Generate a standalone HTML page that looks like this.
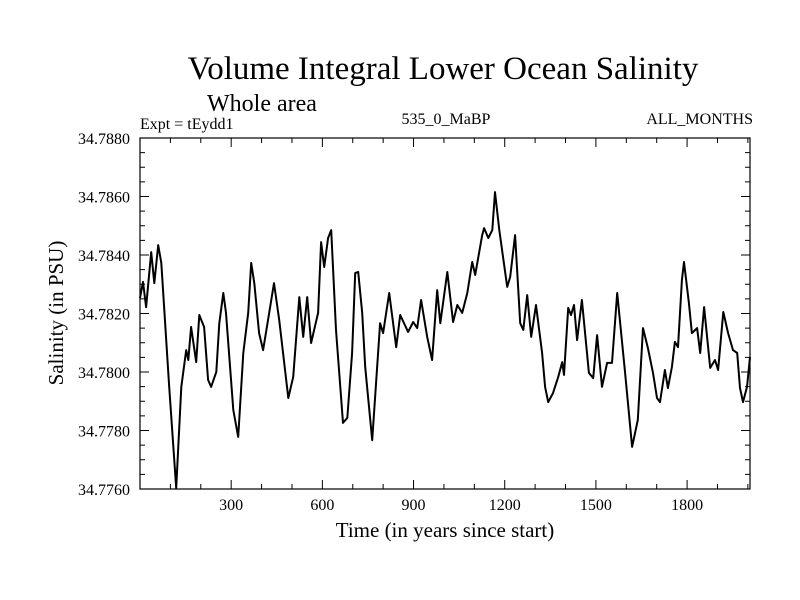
<!DOCTYPE html>
<html><head><meta charset="utf-8"><style>
html,body{margin:0;padding:0;background:#fff;}
svg{display:block;font-family:"Liberation Serif",serif;}
</style></head><body>
<svg id="chart" width="800" height="600">
<rect x="0" y="0" width="800" height="600" fill="#fff"/>
<text x="443" y="79" font-size="33" text-anchor="middle">Volume Integral Lower Ocean Salinity</text>
<text x="262" y="111" font-size="24" text-anchor="middle">Whole area</text>
<text x="140" y="129" font-size="16">Expt = tEydd1</text>
<text x="446" y="124" font-size="16" text-anchor="middle">535_0_MaBP</text>
<text x="753" y="124" font-size="16" text-anchor="end">ALL_MONTHS</text>
<text x="445" y="537" font-size="21" text-anchor="middle">Time (in years since start)</text>
<text transform="translate(63,313) rotate(-90)" font-size="21" text-anchor="middle">Salinity (in PSU)</text>
<g id="axes"></g>
<path id="line" fill="none" stroke="#000" stroke-width="2" stroke-linejoin="round"/>
<rect x="140" y="138" width="610" height="351" fill="none" stroke="#000" stroke-width="1.2"/>
</svg>
<script>
const years=[0,10,20,37,47,60,70,96,119,136,152,159,168,185,195,211,224,234,251,261,274,283,307,323,340,356,366,376,392,405,425,441,458,488,504,524,537,550,563,586,596,606,619,629,645,668,682,698,708,718,731,741,764,790,800,820,843,856,882,899,912,925,945,961,978,988,1011,1030,1044,1060,1077,1093,1103,1126,1132,1146,1159,1168,1182,1208,1218,1234,1251,1261,1274,1287,1303,1323,1333,1343,1359,1376,1389,1395,1409,1418,1428,1438,1454,1477,1491,1504,1520,1537,1553,1570,1596,1619,1638,1655,1671,1688,1701,1711,1727,1737,1750,1760,1770,1783,1790,1806,1816,1833,1843,1856,1876,1892,1902,1919,1935,1951,1965,1974,1984,1997,2007];
const salinity=[34.78253,34.78308,34.78222,34.78410,34.78304,34.78434,34.78373,34.77949,34.77603,34.77949,34.78075,34.78041,34.78154,34.78034,34.78195,34.78154,34.77973,34.77949,34.78000,34.78167,34.78270,34.78202,34.77870,34.77778,34.78065,34.78202,34.78373,34.78304,34.78133,34.78075,34.78202,34.78304,34.78178,34.77911,34.77983,34.78256,34.78120,34.78256,34.78099,34.78202,34.78444,34.78359,34.78458,34.78485,34.78144,34.77826,34.77843,34.78065,34.78338,34.78342,34.78202,34.78017,34.77767,34.78167,34.78133,34.78270,34.78085,34.78195,34.78137,34.78171,34.78150,34.78246,34.78120,34.78041,34.78280,34.78167,34.78342,34.78171,34.78229,34.78202,34.78270,34.78376,34.78332,34.78468,34.78492,34.78458,34.78485,34.78615,34.78485,34.78291,34.78325,34.78468,34.78167,34.78144,34.78263,34.78120,34.78229,34.78065,34.77949,34.77897,34.77928,34.77983,34.78034,34.77990,34.78219,34.78195,34.78229,34.78109,34.78246,34.77997,34.77979,34.78126,34.77949,34.78031,34.78031,34.78270,34.77997,34.77744,34.77836,34.78150,34.78082,34.77997,34.77911,34.77897,34.78007,34.77945,34.78017,34.78103,34.78085,34.78314,34.78376,34.78236,34.78133,34.78150,34.78065,34.78222,34.78014,34.78041,34.78007,34.78205,34.78133,34.78075,34.78065,34.77945,34.77897,34.77949,34.78051];
const xTicks=[300,600,900,1200,1500,1800];
const yTicks=[34.776,34.778,34.780,34.782,34.784,34.786,34.788];
const L=140,R=750,T=138,B=489,X0=0,X1=2007,Y0=34.776,Y1=34.788;
function sx(v){return L+(v-X0)/(X1-X0)*(R-L);}
function sy(v){return B-(v-Y0)/(Y1-Y0)*(B-T);}
const NS="http://www.w3.org/2000/svg";
const axes=document.getElementById('axes');
function ln(x1,y1,x2,y2,name){const e=document.createElementNS(NS,'line');e.setAttribute('x1',x1);e.setAttribute('y1',y1);e.setAttribute('x2',x2);e.setAttribute('y2',y2);e.setAttribute('stroke','#000');e.setAttribute('stroke-width','1');


axes.appendChild(e);}
function tx(x,y,s,anchor,name){const e=document.createElementNS(NS,'text');e.setAttribute('x',x);e.setAttribute('y',y);e.setAttribute('font-size','16');e.setAttribute('text-anchor',anchor);e.textContent=s;


axes.appendChild(e);}
for(let v=100;v<X1;v+=100){const x=sx(v);const major=v%300===0;const len=major?9:5;ln(x,B,x,B-len,'x-tick');ln(x,T,x,T+len,'x-tick-top');}
xTicks.forEach(v=>tx(sx(v),510,String(v),'middle','x-tick-label'));
for(let i=0;i<=24;i++){const v=Y0+i*0.0005;const y=sy(v);const major=i%4===0;const len=major?9:5;ln(L,y,L+len,y,'y-tick');ln(R,y,R-len,y,'y-tick-right');}
yTicks.forEach(v=>tx(130,sy(v)+6,v.toFixed(4),'end','y-tick-label'));
let d='';years.forEach((y,i)=>{d+=(i?'L':'M')+sx(y).toFixed(1)+' '+sy(salinity[i]).toFixed(1);});
document.getElementById('line').setAttribute('d',d);
</script>
</body></html>
